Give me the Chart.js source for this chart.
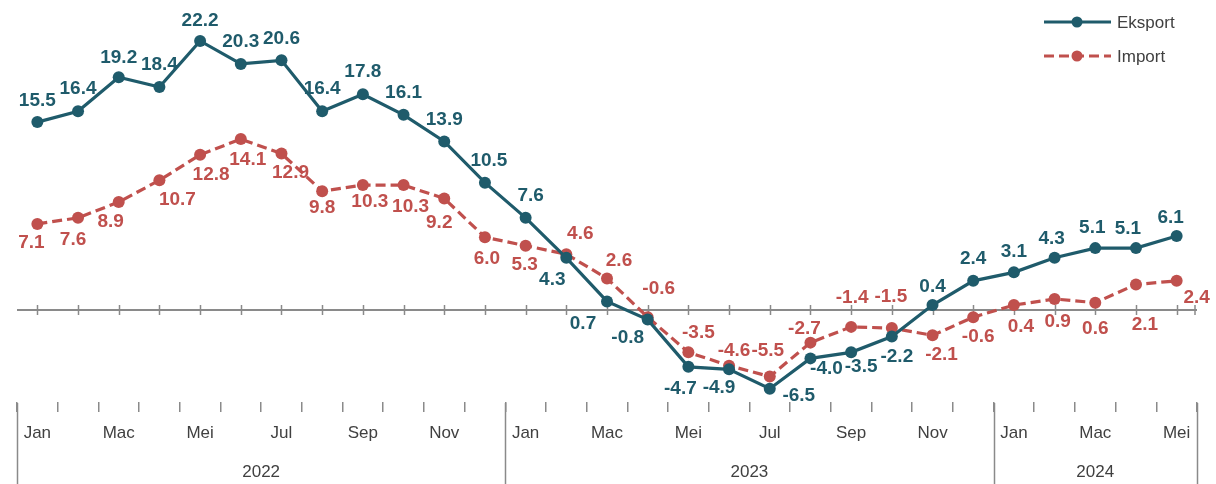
<!DOCTYPE html>
<html><head><meta charset="utf-8">
<script src="https://cdn.jsdelivr.net/npm/chart.js@4.4.1/dist/chart.umd.min.js"></script>
<style>html,body{margin:0;padding:0;background:#fff;}#wrap{width:1216px;height:484px;}</style>
</head><body><div id="wrap"><canvas id="c" width="1216" height="484"></canvas></div>
<script>
// ---- data ----
const categories = ['Jan','Feb','Mac','Apr','Mei','Jun','Jul','Ogo','Sep','Okt','Nov','Dis',
                    'Jan','Feb','Mac','Apr','Mei','Jun','Jul','Ogo','Sep','Okt','Nov','Dis',
                    'Jan','Feb','Mac','Apr','Mei'];
const years = ['2022','2023','2024'];
const monthsPerYear = [12, 12, 5];
const eksport = [15.5,16.4,19.2,18.4,22.2,20.3,20.6,16.4,17.8,16.1,13.9,10.5,
                 7.6,4.3,0.7,-0.8,-4.7,-4.9,-6.5,-4.0,-3.5,-2.2,0.4,2.4,
                 3.1,4.3,5.1,5.1,6.1];
const importVals = [7.1,7.6,8.9,10.7,12.8,14.1,12.9,9.8,10.3,10.3,9.2,6.0,
                    5.3,4.6,2.6,-0.6,-3.5,-4.6,-5.5,-2.7,-1.4,-1.5,-2.1,-0.6,
                    0.4,0.9,0.6,2.1,2.4];
const seriesNames = ['Eksport','Import'];

// ---- label placement (style, not data) ----
const eksportLabelOffsets = [[0,-21],[0,-22],[0,-20],[0,-22],[0,-20],[0,-22],[0,-22],[0,-22],[0,-22],[0,-22],[0,-22],[4,-22],
  [5,-22],[-14,22],[-24,22],[-20,18],[-8,22],[-10,18],[29,7],[16,10],[10,14],[5,20],[0,-18],[0,-22],
  [0,-21],[-3,-19],[-3,-20],[-8,-19],[-6,-18]];
const importLabelOffsets = [[-6,19],[-5,22],[-8,20],[18,19],[11,20],[7,21],[9,19],[0,17],[7,17],[7,22],[-5,24],[2,22],
  [-1,19],[14,-20],[12,-18],[11,-28],[10,-20],[5,-15],[-2,-26],[-6,-14],[1,-29],[-1,-31],[9,19],[5,20],
  [7,22],[3,23],[0,26],[9,40],[20,17]];

const TEAL = '#1F5B6B', RED = '#C0504D', AXIS = '#8a8a8a', TXT = '#404040';
const FONT = "'Liberation Sans', Arial, sans-serif";

const zeroAxis = {
  id: 'zeroAxis',
  beforeDatasetsDraw(chart) {
    const {ctx, chartArea: a, scales: {x, y}} = chart;
    const y0 = y.getPixelForValue(0);
    ctx.save();
    ctx.strokeStyle = AXIS; ctx.lineWidth = 2;
    ctx.beginPath(); ctx.moveTo(a.left, y0); ctx.lineTo(a.right, y0); ctx.stroke();
    ctx.lineWidth = 1.5;
    ctx.beginPath();
    for (let i = 0; i < categories.length; i++) {
      const px = Math.round(x.getPixelForValue(i)) + 0.5;
      ctx.moveTo(px, y0 - 5); ctx.lineTo(px, y0 + 5);
    }
    ctx.moveTo(a.right - 2, y0 - 5); ctx.lineTo(a.right - 2, y0 + 5);
    ctx.stroke();
    ctx.restore();
  }
};

const yearAxis = {
  id: 'yearAxis',
  afterDraw(chart) {
    const {ctx, chartArea: a, scales: {x}} = chart;
    const n = categories.length;
    const bx = b => b === 0 ? a.left : (b === n ? a.right : (x.getPixelForValue(b - 1) + x.getPixelForValue(b)) / 2);
    ctx.save();
    ctx.strokeStyle = AXIS; ctx.lineWidth = 1.5;
    let start = 0;
    const bounds = [0];
    monthsPerYear.forEach(m => { start += m; bounds.push(start); });
    ctx.beginPath();
    bounds.forEach(b => { const px = Math.round(bx(b)) + 0.5; ctx.moveTo(px, a.bottom + 1); ctx.lineTo(px, chart.height); });
    ctx.stroke();
    ctx.fillStyle = TXT; ctx.font = '17px ' + FONT; ctx.textAlign = 'center'; ctx.textBaseline = 'middle';
    years.forEach((yr, i) => {
      const cx = (bx(bounds[i]) + bx(bounds[i + 1])) / 2;
      ctx.fillText(yr, cx, a.bottom + 70);
    });
    ctx.restore();
  }
};

const valueLabels = {
  id: 'valueLabels',
  afterDatasetsDraw(chart) {
    const {ctx} = chart;
    const offs = [eksportLabelOffsets, importLabelOffsets];
    ctx.save();
    ctx.font = 'bold 19px ' + FONT; ctx.textAlign = 'center'; ctx.textBaseline = 'middle';
    chart.data.datasets.forEach((ds, di) => {
      const meta = chart.getDatasetMeta(di);
      ctx.fillStyle = ds.borderColor;
      meta.data.forEach((pt, i) => {
        const o = offs[di][i];
        ctx.fillText(ds.data[i].toFixed(1), pt.x + o[0], pt.y + o[1]);
      });
    });
    ctx.restore();
  }
};

const customLegend = {
  id: 'customLegend',
  afterDraw(chart) {
    const {ctx} = chart;
    const rows = [{c: TEAL, dash: [], y: 22}, {c: RED, dash: [10, 5], y: 56}];
    ctx.save();
    rows.forEach((r, i) => {
      ctx.strokeStyle = r.c; ctx.lineWidth = 3; ctx.setLineDash(r.dash);
      ctx.beginPath(); ctx.moveTo(1044, r.y); ctx.lineTo(1111, r.y); ctx.stroke();
      ctx.setLineDash([]);
      ctx.fillStyle = r.c; ctx.beginPath(); ctx.arc(1077, r.y, 5.5, 0, Math.PI * 2); ctx.fill();
      ctx.fillStyle = TXT; ctx.font = '17px ' + FONT; ctx.textAlign = 'left'; ctx.textBaseline = 'middle';
      ctx.fillText(seriesNames[i], 1117, r.y + 1);
    });
    ctx.restore();
  }
};

new Chart(document.getElementById('c'), {
  type: 'line',
  data: {
    labels: categories,
    datasets: [
      {label: seriesNames[0], data: eksport, borderColor: TEAL, backgroundColor: TEAL, borderWidth: 3.2,
       pointRadius: 6, pointBackgroundColor: TEAL, pointBorderWidth: 0, tension: 0, order: 1},
      {label: seriesNames[1], data: importVals, borderColor: RED, backgroundColor: RED, borderWidth: 3.2,
       borderDash: [10, 5], pointRadius: 6, pointBackgroundColor: RED, pointBorderWidth: 0, tension: 0, order: 2}
    ]
  },
  options: {
    responsive: false, animation: false, devicePixelRatio: 1,
    layout: {padding: {left: 17, right: 19, top: 7, bottom: 0}},
    plugins: {legend: {display: false}, tooltip: {enabled: false}},
    scales: {
      x: {
        offset: true,
        border: {display: false},
        grid: {display: true, offset: true, drawOnChartArea: false, drawTicks: true, tickLength: 10, color: AXIS, lineWidth: 1.5},
        ticks: {autoSkip: false, maxRotation: 0, minRotation: 0, padding: 11, color: TXT,
                font: {family: FONT, size: 17},
                callback: (v, i) => (i % 2 === 0 ? categories[i] : '')},
        afterFit: s => { s.height = 82; }
      },
      y: {display: false, min: -7.6, max: 25}
    }
  },
  plugins: [zeroAxis, valueLabels, yearAxis, customLegend]
});
</script>
</body></html>
